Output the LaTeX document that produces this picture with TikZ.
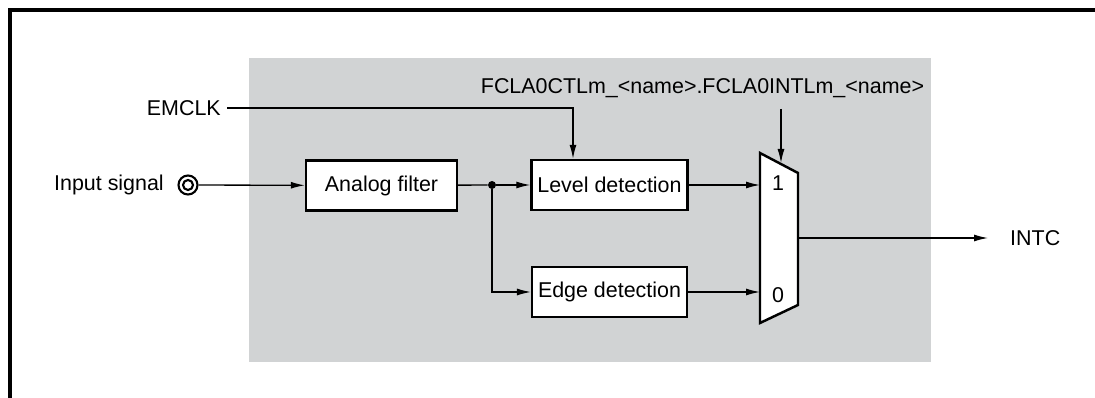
\documentclass[tikz,border=0pt]{standalone}
\usepackage{fontspec}
\setmainfont{Liberation Sans}
\usetikzlibrary{arrows.meta,positioning}
\definecolor{panelgray}{RGB}{209,211,212}
\tikzset{
  blockbox/.style={draw,line width=1.4pt,fill=white,minimum width=3.02cm,minimum height=1cm},
  sig/.style={line width=0.75pt,-{Latex[length=0.28cm,width=0.14cm]}},
  wire/.style={line width=0.75pt}
}
\begin{document}
\begin{tikzpicture}[x=0.02cm,y=-0.02cm,font=\fontsize{12.2}{14}\selectfont]
        \useasboundingbox (0,0) rectangle (1095,398);
        
        % frame and shaded area
        \draw[line width=2pt] (10,398) -- (10,10) -- (1095,10);
        \fill[panelgray] (249,58) rectangle (931,362);
        
        % blocks
        \node[blockbox] (filter) at (381.5,185.5) {Analog filter};
        \node[blockbox] (level) at (609.5,185) {Level detection};
        \node[blockbox] (edge) at (609.5,292) {Edge detection};
        \node[circle,fill,inner sep=0,minimum size=0.16cm] (split) at (492,185) {};
        
        % selector
        \draw[line width=1.4pt,fill=white] (760,153) -- (798,173) -- (798,305) -- (760,323) -- cycle;
        \coordinate (mux1) at (760,185);
        \coordinate (mux0) at (760,292);
        \coordinate (muxsel) at (781,163);
        \coordinate (muxout) at (798,238);
        \node (one) at (778,183) {1};
        \node (zero) at (778,295) {0};
        
        % inputs and outputs
        \node[anchor=east] (inlabel) at (170,185) {Input signal};
        \node[circle,draw,line width=1.2pt,inner sep=0,minimum size=0.38cm] (insig) at (188,185) {};
        \draw[line width=1.2pt] (insig.center) circle (0.1cm);
        \node[anchor=east] (emclk) at (227,108) {EMCLK};
        \node (sel) at (702.5,88) {FCLA0CTLm\_<name>.FCLA0INTLm\_<name>};
        \node[anchor=west] (intc) at (1004,238) {INTC};
        
        % connections
        \draw[sig] (insig) -- (filter);
        \draw[wire] (filter) -- (split);
        \draw[sig] (split) -- (level);
        \draw[sig] (split) |- (edge);
        \draw[sig] (level.east) -- (mux1);
        \draw[sig] (edge.east) -- (mux0);
        \draw[sig] (emclk) -| ([xshift=-0.73cm]level.north);
        \draw[sig,shorten <=0.1cm] (sel.south -| muxsel) -- (muxsel);
        \draw[sig,shorten >=0.32cm] (muxout) -- (intc.west);
        
\end{tikzpicture}
\end{document}
